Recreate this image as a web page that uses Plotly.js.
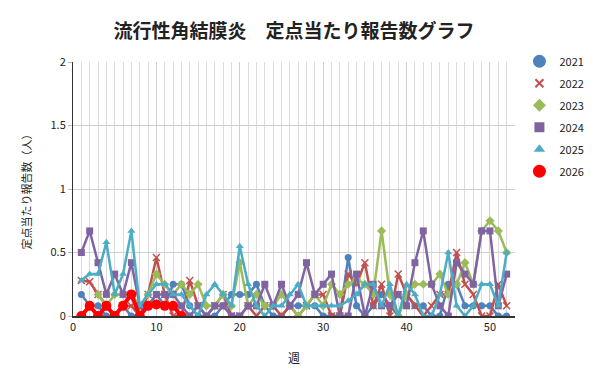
<!DOCTYPE html>
<html>
<head>
<meta charset="utf-8">
<script src="https://cdn.plot.ly/plotly-3.0.1.min.js"></script>
<style>html,body{margin:0;padding:0;background:#fff}#chart{width:600px;height:384px}</style>
</head>
<body>
<div id="chart"></div>
<script>
const weeks = Array.from({length: 52}, (_, i) => i + 1);
const seriesNames = ['2021', '2022', '2023', '2024', '2025', '2026'];

const y2021 = [0.17,0.08,0.08,0,0,0.08,0,0,0.08,0.17,0.08,0.25,0.25,0.08,0,0,0,0.08,0.17,0.17,
  0.17,0.25,0.08,0,0,0.08,0.08,0.08,0.08,0,0,0,0.46,0.08,0,0.08,0.17,0.08,0,0.17,
  0.08,0.08,0,0,0.25,0.25,0.08,0.08,0.08,0.08,0,0];
const y2022 = [0.28,0.27,0.17,0.08,0,0.08,0.08,0,0.17,0.46,0.17,0,0,0.28,0.08,0,0.08,0.17,0,0,
  0.08,0,0.08,0.08,0,0.08,0,0.08,0.17,0.17,0,0,0.33,0.25,0.42,0.08,0.25,0,0.33,0.17,
  0.08,0,0.08,0.17,0.17,0.5,0.25,0.17,0,0,0.25,0.08];
const y2023 = [null,null,0.17,0.08,0.17,0.17,0.17,0.08,0.17,0.33,0.25,0.17,0.25,0.17,0.25,0.08,0.08,0.17,0.08,0.42,
  0.08,0.17,0.08,0.08,0.17,0.08,0,0.08,0.17,0.08,0.25,0.17,0.25,0.29,0.25,0.17,0.67,0.17,0,0.17,
  0.25,0.25,0.25,0.33,0.17,0.25,0.42,0.25,0.67,0.75,0.67,0.5];
const y2024 = [0.5,0.67,0.42,0.17,0.33,0.17,0.42,0.08,0.08,0.17,0.17,0.17,0.08,0,0.08,0,0.08,0.08,0,0,
  0.08,0.08,0.25,0.08,0.25,0.08,0.17,0.42,0.17,0.25,0.33,0,0,0.33,0,0.25,0.08,0.08,0.17,0.08,
  0.42,0.67,0.25,0.08,0,0.42,0.33,0.25,0.67,0.67,0.08,0.33];
const y2025 = [0.28,0.33,0.33,0.58,0.17,0.33,0.67,0.08,0.17,0.25,0.25,0.17,0.17,0.08,0,0.17,0.25,0.17,0.08,0.55,
  0.25,0.08,0,0.08,0.08,0.17,0.25,0.08,0.08,0.08,0.08,0.08,0.12,0.17,0.25,0.25,0.08,0.25,0,0.25,
  0.17,0,0,0.17,0.5,0.08,0,0.08,0.25,0.25,0.08,0.5];
const y2026 = [0,0.08,0,0.08,0,0.08,0.17,0,0.08,0.09,0.08,0.08,0];

const colors = ['#4F81BD', '#C0504D', '#9BBB59', '#8064A2', '#4BACC6', '#FF0000'];
const symbols = ['circle', 'x-thin-open', 'diamond', 'square', 'triangle-up', 'circle'];
const legendSymbols = ['circle', 'x-thin-open', 'diamond', 'square', 'triangle-up', 'circle'];
const allY = [y2021, y2022, y2023, y2024, y2025, y2026];

const traces = [];
allY.forEach((ys, i) => {
  const is26 = i === 5;
  traces.push({
    x: weeks.slice(0, ys.length), y: ys, type: 'scatter', mode: 'lines+markers',
    name: seriesNames[i], showlegend: false, connectgaps: false,
    line: {color: colors[i], width: is26 ? 4 : 2.5},
    marker: {color: colors[i], symbol: symbols[i], size: is26 ? 10 : 7,
      line: {color: colors[i], width: i === 1 ? 1.5 : 0}},
    hoverinfo: 'x+y+name'
  });
});
allY.forEach((ys, i) => {
  traces.push({
    x: [null], y: [null], type: 'scatter', mode: 'markers', name: seriesNames[i],
    legendgroup: 'g' + i, showlegend: true,
    marker: {color: colors[i], symbol: legendSymbols[i], size: (i === 0 || i === 5) ? 13 : (i === 1 ? 8 : 10),
      line: {color: colors[i], width: i === 1 ? 2 : 0}}
  });
});

const layout = {
  width: 600, height: 384,
  margin: {l: 73, r: 85, t: 62, b: 68, autoexpand: false},
  paper_bgcolor: '#ffffff', plot_bgcolor: '#ffffff',
  font: {family: '"Noto Sans CJK JP", "Noto Sans", sans-serif', size: 11, color: '#222'},
  title: {text: '<b>流行性角結膜炎　定点当たり報告数グラフ</b>', x: 0.5, xref: 'paper', yref: 'container', y: 0.918, yanchor: 'middle',
    font: {size: 19, color: '#222', family: '"Noto Sans CJK JP", sans-serif'}},
  xaxis: {
    range: [0, 53], tick0: 0, dtick: 10, showgrid: true, gridcolor: '#d0d0d0', gridwidth: 1,
    minor: {dtick: 1, showgrid: true, gridcolor: '#dcdcdc', gridwidth: 1},
    showline: true, linecolor: '#333', linewidth: 1.5, zeroline: false, ticks: '',
    tickfont: {size: 11, color: '#222'},
    title: {text: '週', font: {size: 12, color: '#222'}, standoff: 22}
  },
  yaxis: {
    range: [0, 2], dtick: 0.5, showgrid: true, gridcolor: '#d0d0d0', gridwidth: 1,
    showline: true, linecolor: '#333', linewidth: 1, zeroline: false,
    ticks: 'outside', ticklen: 4, tickcolor: '#bbb',
    tickfont: {size: 11, color: '#222'},
    title: {text: '定点当たり報告数（人）', font: {size: 11, color: '#222'}, standoff: 16}
  },
  legend: {x: 1.01, xanchor: 'left', y: 1.06, yanchor: 'top', font: {size: 11, color: '#222'},
    tracegroupgap: 3, itemwidth: 30, bgcolor: 'rgba(0,0,0,0)'},
  hovermode: 'closest'
};

Plotly.newPlot('chart', traces, layout, {displayModeBar: false});
</script>
</body>
</html>
